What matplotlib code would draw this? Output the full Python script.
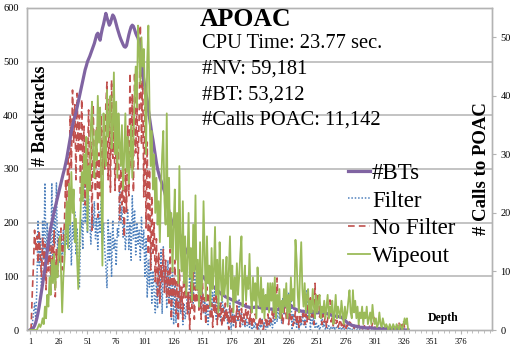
import numpy as np
import matplotlib
matplotlib.use("Agg")
import matplotlib.pyplot as plt
from matplotlib.ticker import FixedLocator

plt.rcParams['font.family'] = ['Liberation Serif', 'DejaVu Serif']

bts = [
    0, 1, 2, 4, 8, 14, 22, 32, 44, 58,
    72, 86, 100, 114, 130, 146, 162, 178, 190, 200,
    210, 220, 229, 238, 247, 256, 265, 274, 283, 292,
    300, 310, 320, 332, 345, 358, 370, 380, 390, 398,
    405, 415, 425, 435, 445, 455, 465, 475, 485, 492,
    500, 505, 510, 516, 522, 528, 534, 542, 550, 553,
    546, 540, 552, 562, 570, 580, 590, 582, 575, 568,
    572, 580, 587, 584, 578, 570, 562, 555, 548, 542,
    537, 532, 528, 527, 530, 540, 550, 558, 565, 568,
    566, 560, 553, 548, 544, 535, 520, 500, 482, 466,
    452, 440, 428, 410, 395, 380, 366, 354, 340, 325,
    312, 300, 292, 284, 278, 272, 265, 258, 250, 240,
    230, 220, 212, 205, 200, 196, 194, 192, 190, 186,
    180, 174, 168, 162, 157, 152, 148, 144, 140, 136,
    132, 128, 124, 120, 117, 114, 111, 108, 105, 102,
    100, 98, 96, 93, 91, 89, 88, 86, 84, 82,
    80, 78, 76, 74, 72, 70, 68, 66, 65, 64,
    62, 61, 60, 59, 58, 57, 56, 55, 54, 53,
    52, 51, 50, 49, 48, 47, 46, 45, 44, 43,
    43, 42, 42, 42, 42, 42, 43, 43, 43, 42,
    42, 41, 41, 41, 40, 40, 40, 40, 39, 39,
    39, 39, 38, 38, 38, 38, 38, 38, 39, 40,
    42, 44, 46, 47, 48, 48, 47, 46, 44, 42,
    40, 39, 38, 37, 36, 36, 35, 35, 35, 34,
    34, 34, 33, 33, 33, 33, 33, 32, 32, 32,
    32, 32, 33, 34, 34, 33, 32, 32, 31, 30,
    29, 28, 28, 27, 27, 26, 26, 25, 25, 25,
    24, 24, 22, 20, 18, 16, 14, 12, 11, 10,
    9, 8, 8, 7, 7, 6, 6, 5, 5, 5,
    5, 4, 4, 4, 4, 4, 4, 4, 4, 3,
    3, 3, 3, 3, 3, 3, 3, 3, 3, 3,
    3, 3, 3, 2, 2, 2, 2, 2, 2, 2,
    2, 2, 2, 1, 1, 1, 0, 0, 0, 0,
]

filter_bt = [
    0, 0, 10, 30, 50, 20, 80, 205, 120, 170,
    80, 205, 130, 274, 112, 200, 150, 180, 100, 274,
    112, 230, 160, 274, 140, 186, 125, 170, 130, 186,
    140, 200, 160, 220, 150, 205, 120, 200, 170, 220,
    140, 190, 100, 78, 180, 205, 150, 316, 200, 240,
    180, 250, 200, 160, 230, 190, 240, 170, 210, 150,
    220, 180, 240, 160, 200, 150, 120, 78, 205, 130,
    180, 100, 205, 150, 170, 120, 190, 173, 260, 200,
    230, 173, 200, 150, 180, 224, 150, 200, 130, 250,
    170, 224, 140, 200, 160, 186, 130, 210, 150, 186,
    100, 170, 60, 130, 80, 150, 50, 110, 70, 32,
    90, 40, 120, 60, 150, 30, 155, 80, 120, 40,
    130, 60, 100, 20, 117, 10, 90, 13, 60, 20,
    80, 30, 60, 10, 50, 20, 40, 70, 30, 117,
    60, 100, 50, 125, 75, 110, 80, 60, 90, 40,
    70, 30, 60, 20, 50, 10, 40, 87, 32, 70,
    40, 80, 20, 60, 35, 50, 15, 70, 32, 45,
    20, 40, 10, 30, 50, 0, 40, 6, 30, 10,
    40, 15, 56, 6, 30, 10, 25, 5, 20, 8,
    15, 5, 20, 0, 10, 3, 15, 2, 8, 0,
    10, 4, 20, 6, 15, 0, 12, 5, 25, 8,
    18, 4, 30, 10, 40, 15, 50, 20, 45, 13,
    60, 30, 50, 75, 40, 70, 20, 75, 0, 30,
    10, 25, 5, 20, 0, 15, 8, 30, 10, 20,
    5, 75, 20, 60, 0, 40, 10, 25, 5, 15,
    3, 10, 0, 8, 24, 5, 15, 0, 10, 3,
    8, 0, 5, 2, 10, 0, 6, 3, 8, 0,
    4, 1, 6, 0, 3, 8, 2, 5, 0, 4,
    2, 0, 3, 1, 0, 2, 0, 1, 0, 0,
    0, 1, 0, 0, 2, 0, 0, 1, 0, 0,
    0, 0, 1, 0, 0, 0, 0, 0, 0, 0,
    0, 0, 0, 0, 0, 0, 0, 0, 0, 0,
    0, 0, 0, 0, 0, 0, 0, 0, 0, 0,
]

no_filter = [
    0, 5, 69, 120, 186, 150, 175, 125, 186, 140,
    100, 173, 120, 160, 75, 150, 110, 173, 90, 160,
    120, 185, 62, 150, 100, 170, 130, 190, 112, 165,
    200, 280, 230, 335, 260, 400, 300, 447, 350, 420,
    280, 441, 330, 400, 240, 430, 300, 380, 233, 350,
    300, 410, 260, 350, 186, 420, 298, 257, 380, 210,
    330, 250, 400, 290, 380, 300, 420, 462, 280, 430,
    257, 466, 320, 400, 260, 350, 300, 345, 205, 300,
    233, 280, 173, 300, 220, 380, 250, 479, 300, 440,
    257, 480, 330, 420, 300, 400, 568, 345, 500, 248,
    415, 190, 350, 140, 300, 112, 250, 143, 200, 90,
    170, 60, 143, 50, 120, 90, 150, 70, 130, 60,
    110, 50, 150, 20, 100, 60, 130, 30, 90, 6,
    112, 40, 80, 20, 136, 60, 100, 30, 70, 0,
    90, 40, 120, 20, 80, 50, 110, 37, 70, 20,
    99, 30, 60, 10, 80, 40, 65, 20, 50, 5,
    60, 30, 69, 10, 45, 25, 50, 6, 40, 15,
    50, 20, 35, 0, 45, 15, 40, 10, 30, 5,
    45, 20, 35, 6, 40, 15, 30, 10, 50, 20,
    35, 10, 40, 5, 25, 15, 30, 18, 0, 12,
    25, 8, 18, 0, 15, 20, 5, 30, 10, 25,
    15, 40, 20, 60, 30, 97, 43, 50, 20, 35,
    10, 30, 62, 20, 40, 10, 30, 15, 25, 8,
    20, 35, 10, 25, 5, 30, 15, 20, 40, 10,
    30, 15, 50, 20, 60, 25, 40, 10, 87, 30,
    60, 69, 24, 40, 10, 30, 15, 25, 5, 20,
    30, 56, 15, 25, 5, 20, 10, 18, 5, 12,
    20, 8, 15, 5, 12, 3, 10, 6, 15, 13,
    5, 10, 3, 8, 2, 6, 10, 3, 5, 2,
    4, 8, 2, 6, 1, 4, 10, 3, 12, 24,
    5, 2, 8, 1, 3, 0, 2, 4, 1, 0,
    2, 0, 1, 3, 0, 1, 0, 2, 5, 3,
    8, 15, 2, 10, 5, 18, 3, 0, 0, 0,
]

wipeout = [
    0, 0, 0, 0, 0, 0, 0, 0.5, 1, 0.5,
    1, 2, 1, 4, 2, 6, 4, 9, 6, 12,
    8, 13, 7, 11, 9, 14, 16, 10, 3, 9,
    12, 17, 22, 14, 25, 18, 27, 20, 24, 15,
    19, 12, 7, 14, 20, 27, 22, 30, 25, 33,
    17, 28, 24, 35, 39, 30, 26, 34, 29, 40,
    32, 38, 25, 11, 37, 30, 28, 41, 33, 36,
    40, 31, 35, 44, 30, 39, 26, 37, 32, 28,
    35, 24, 30, 37, 27, 33, 25, 30, 35, 26,
    32, 40, 45, 38, 52, 48, 42, 50, 45, 48,
    40, 30, 46, 52, 38, 28, 34, 24, 30, 20,
    26, 18, 22, 15, 24, 30, 34, 22, 18, 37,
    16, 26, 14, 20, 10, 18, 24, 12, 20, 8,
    28, 14, 10, 22, 8, 16, 6, 12, 20, 9,
    14, 5, 18, 10, 23, 7, 12, 4, 15, 6,
    9, 22, 13, 5, 16, 8, 11, 4, 14, 7,
    10, 17.6, 6, 12, 3, 15, 9, 5, 12, 6,
    8, 12.5, 4, 10, 16, 7, 11, 3, 9, 5,
    11.4, 6, 9, 13, 16, 4, 8, 11, 5, 9,
    7, 13, 6, 3, 9, 5, 8, 2, 10.7, 6,
    4, 9, 3, 7, 2, 6, 4, 8, 3, 8,
    5, 8, 3, 9, 2, 6, 4, 7, 2, 5,
    3, 7, 4, 8, 2, 6, 3, 9, 5, 7,
    4, 15.4, 12, 6, 3, 10, 15, 7, 4, 8,
    3, 6, 7, 2, 5, 3, 7, 4, 2, 6,
    3, 5, 6, 2, 4, 3, 5, 2, 4, 6,
    2, 4, 3, 5, 1, 3, 6, 2, 4, 3,
    2, 5, 3, 1, 4, 2, 3, 5, 6.8, 3,
    2, 6.8, 3, 5, 2, 4, 1, 3, 2, 4,
    1, 3, 2, 4, 1, 2, 3, 1, 4.3, 2,
    1, 2, 0.5, 1, 3, 1, 0.5, 2, 1, 0.5,
    1, 0.5, 0, 1, 0.5, 0, 1, 0.5, 0, 1,
    0.5, 0, 1, 0.5, 0, 1, 2, 1, 2, 0,
]

depth = np.arange(1, len(bts) + 1)
x_tick_labels = [1, 26, 51, 76, 101, 126, 151, 176, 201, 226, 251, 276, 301, 326, 351, 376]
left_ticks = [0, 100, 200, 300, 400, 500, 600]
right_ticks = [0, 10, 20, 30, 40, 50]

stats_title = "APOAC"
stats_lines = ["CPU Time: 23.77 sec.", "#NV: 59,181", "#BT: 53,212", "#Calls POAC: 11,142"]

fig = plt.figure(figsize=(5.2, 3.48), dpi=100)
ax = fig.add_axes([27/520, 18/348, 465/520, 322/348])
ax2 = ax.twinx()

grid_c = '#b3b3b3'
ax.set_ylim(0, 600)
ax2.set_ylim(0, 55)
ax.set_xlim(-1.6, 403)

for v in left_ticks[1:]:
    ax.axhline(v, color=grid_c, lw=1.1, zorder=0)

l_filter, = ax.plot(depth, filter_bt, color='#4F81BD', lw=1.1, ls=(0, (1, 1.2)), label='Filter', zorder=2)
l_nof, = ax.plot(depth, no_filter, color='#C0504D', lw=1.2, ls=(0, (4, 2.5)), label='No Filter', zorder=3)
l_bts, = ax.plot(depth, bts, color='#8064A2', lw=2.3, label='#BTs', zorder=4)
l_wipe, = ax2.plot(depth, wipeout, color='#9BBB59', lw=1.3, label='Wipeout', zorder=5)

ax.set_yticks(left_ticks)
ax.set_yticklabels([str(v) for v in left_ticks], fontsize=7.5)
ax.tick_params(axis='y', length=0, pad=6)
ax2.set_yticks(right_ticks)
ax2.set_yticklabels([str(v) for v in right_ticks], fontsize=7.5)
ax2.tick_params(axis='y', length=3, pad=3, color=grid_c, direction='out')

ax.xaxis.set_major_locator(FixedLocator(x_tick_labels))
ax.xaxis.set_minor_locator(FixedLocator(np.arange(1, 403, 5)))
ax.set_xticklabels([str(v) for v in x_tick_labels], fontsize=6)
ax.tick_params(axis='x', which='both', length=3, color=grid_c, pad=3, direction='out')
ax.tick_params(axis='x', which='minor', length=2)

for a in (ax, ax2):
    for s in a.spines.values():
        s.set_color(grid_c)
        s.set_linewidth(1.0)

ax.text(0.028, 0.665, "# Backtracks", transform=ax.transAxes, rotation=90,
        ha='center', va='center', fontsize=13, fontweight='bold')
ax2.text(0.978, 0.5, "# Calls to POAC", transform=ax.transAxes, rotation=90,
         ha='center', va='center', fontsize=13.5, fontweight='bold')
ax.text(0.895, 0.037, "Depth", transform=ax.transAxes, ha='center', va='center',
        fontsize=8.5, fontweight='bold')

fig.text(200/520, 1 - 20/348, stats_title, fontsize=18.5, fontweight='bold', ha='left', va='center')
for k, line in enumerate(stats_lines):
    fig.text(202/520, 1 - (44 + 25.5*k)/348, line, fontsize=14.8, ha='left', va='center')

leg = ax2.legend(handles=[l_bts, l_filter, l_nof, l_wipe], loc='upper left',
                 bbox_to_anchor=(0.69, 0.52), frameon=False, fontsize=16.5,
                 handlelength=0.95, handletextpad=0.1, labelspacing=0.3, borderpad=0,
                 borderaxespad=0)

fig.savefig('out.png', dpi=100)
